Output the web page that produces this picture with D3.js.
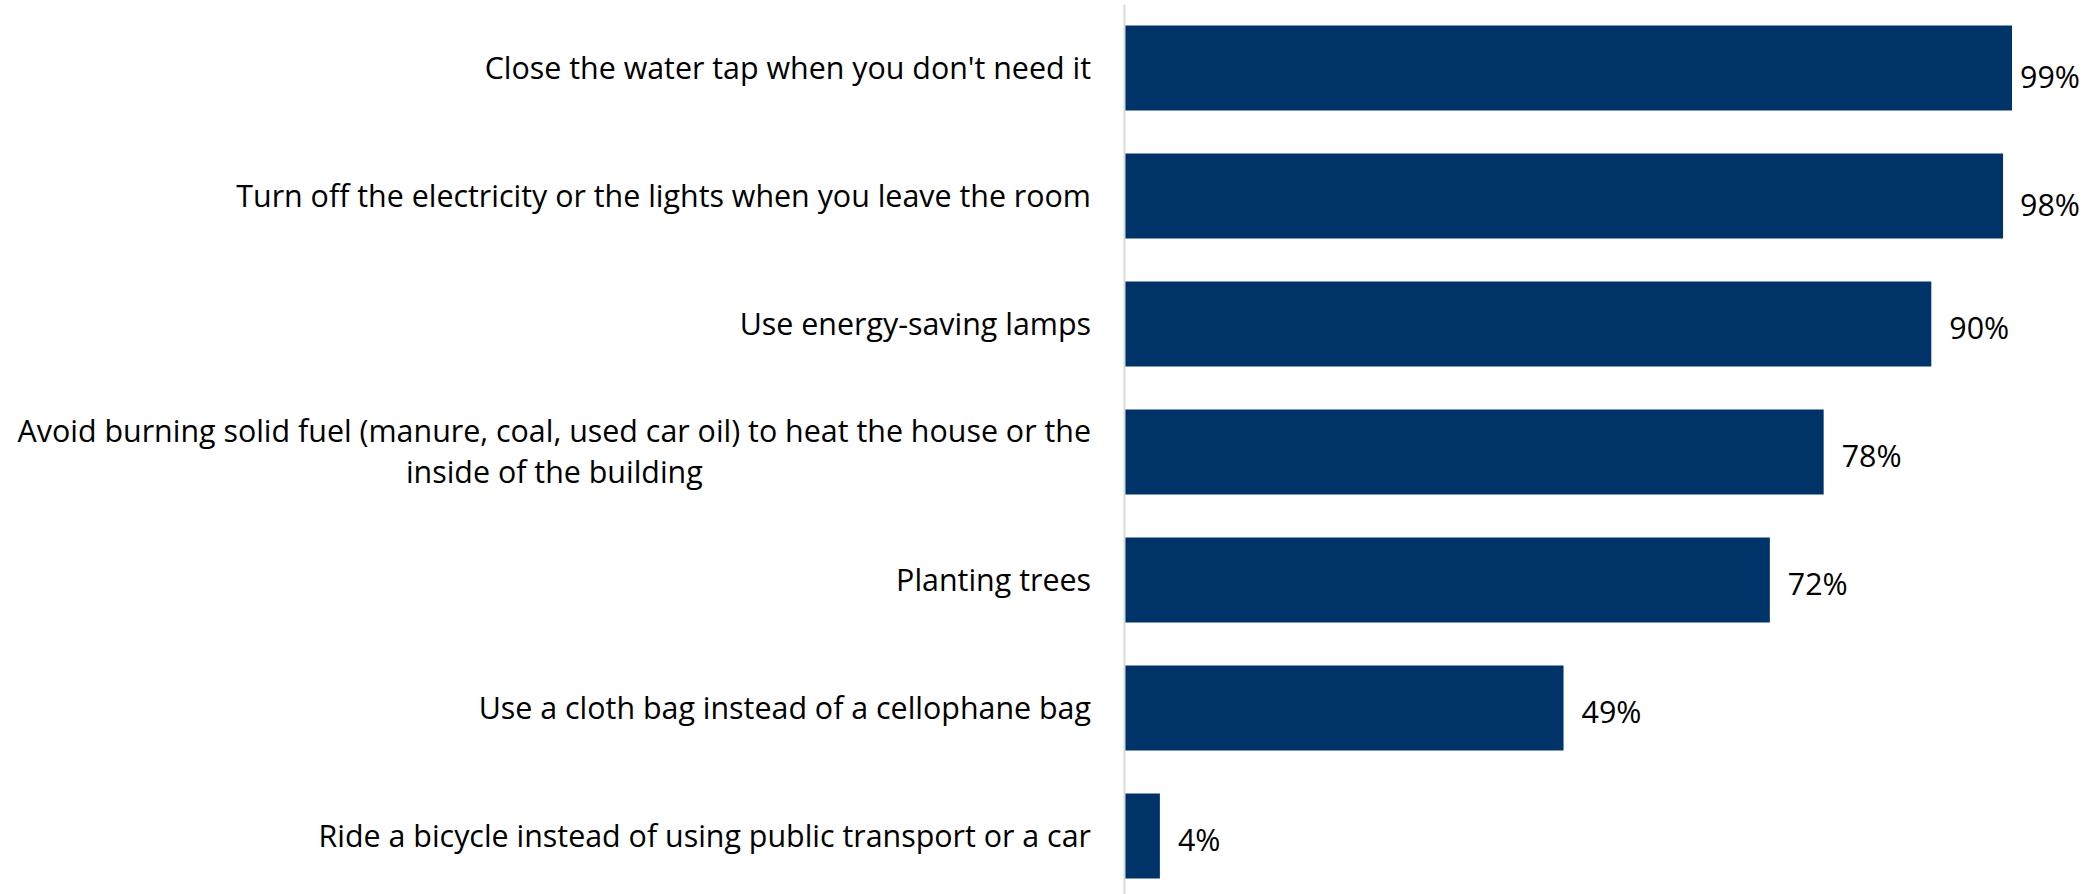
<!DOCTYPE html>
<html>
<head>
<meta charset="utf-8">
<script src="https://cdn.jsdelivr.net/npm/d3@7"></script>
<style>
  html, body { margin: 0; padding: 0; background: #fff; }
  svg { display: block; }
  text { font-family: "Segoe UI", "Open Sans", "Noto Sans", sans-serif; fill: #000; }
</style>
</head>
<body>
<svg id="chart" width="2100" height="894"></svg>
<script>
const categories = [
  "Close the water tap when you don't need it",
  "Turn off the electricity or the lights when you leave the room",
  "Use energy-saving lamps",
  "Avoid burning solid fuel (manure, coal, used car oil) to heat the house or the inside of the building",
  "Planting trees",
  "Use a cloth bag instead of a cellophane bag",
  "Ride a bicycle instead of using public transport or a car"
];
const values = [99, 98, 90, 78, 72, 49, 4];
const valueLabels = ["99%", "98%", "90%", "78%", "72%", "49%", "4%"];

const W = 2100, H = 894;
const svg = d3.select("#chart");
svg.append("rect").attr("width", W).attr("height", H).attr("fill", "#fff");

const x = d3.scaleLinear().domain([0, 100]).range([1124, 2021]);
const y = d3.scaleBand().domain(categories).range([4, 900])
  .paddingInner(0.336).paddingOuter(0.168);

const data = categories.map((c, i) => ({ cat: c, v: values[i], lab: valueLabels[i] }));

// bars
svg.append("g").selectAll("rect").data(data).join("rect")
  .attr("x", x(0))
  .attr("y", d => y(d.cat))
  .attr("width", d => x(d.v) - x(0))
  .attr("height", y.bandwidth())
  .attr("fill", "#003468");

// vertical axis line
const axis = svg.append("g").attr("transform", `translate(${x(0)},0)`)
  .call(d3.axisLeft(y).tickSize(0).tickFormat(""));
axis.select(".domain").attr("stroke", "#d9d9d9").attr("stroke-width", 2);

// category labels
const fontSize = 30.4;
const labelRight = 1091;
const maxW = 1085;
const lineH = 41.7;
const gl = svg.append("g").attr("font-size", fontSize);
data.forEach(d => {
  const cy = y(d.cat) + y.bandwidth() / 2;
  const words = d.cat.split(" ");
  const tmp = gl.append("text");
  let lines = [], cur = "";
  words.forEach(w => {
    const test = cur ? cur + " " + w : w;
    tmp.text(test);
    if (tmp.node().getComputedTextLength() > maxW && cur) { lines.push(cur); cur = w; }
    else cur = test;
  });
  lines.push(cur);
  tmp.remove();
  const t = gl.append("text");
  if (lines.length === 1) {
    t.attr("x", labelRight).attr("y", cy + 10.5).attr("text-anchor", "end").text(lines[0]);
  } else {
    let widest = 0;
    lines.forEach(l => {
      const m = gl.append("text").text(l);
      widest = Math.max(widest, m.node().getComputedTextLength());
      m.remove();
    });
    const cx = labelRight - widest / 2;
    const y0 = cy + 10.5 - (lines.length - 1) * lineH / 2;
    lines.forEach((l, i) => {
      t.append("tspan").attr("x", cx).attr("y", y0 + i * lineH)
        .attr("text-anchor", "middle").text(l);
    });
  }
});

// value labels
const vl = svg.append("g").attr("font-size", fontSize);
const rightLimit = 2080;
data.forEach(d => {
  const cy = y(d.cat) + y.bandwidth() / 2;
  const t = vl.append("text").text(d.lab);
  const w = t.node().getComputedTextLength();
  let px = x(d.v) + 18;
  let clamped = false;
  if (px + w > rightLimit) { px = rightLimit - w; clamped = true; }
  t.attr("x", px).attr("y", cy + 14.5 + (clamped ? 5 : 0));
});
</script>
</body>
</html>
